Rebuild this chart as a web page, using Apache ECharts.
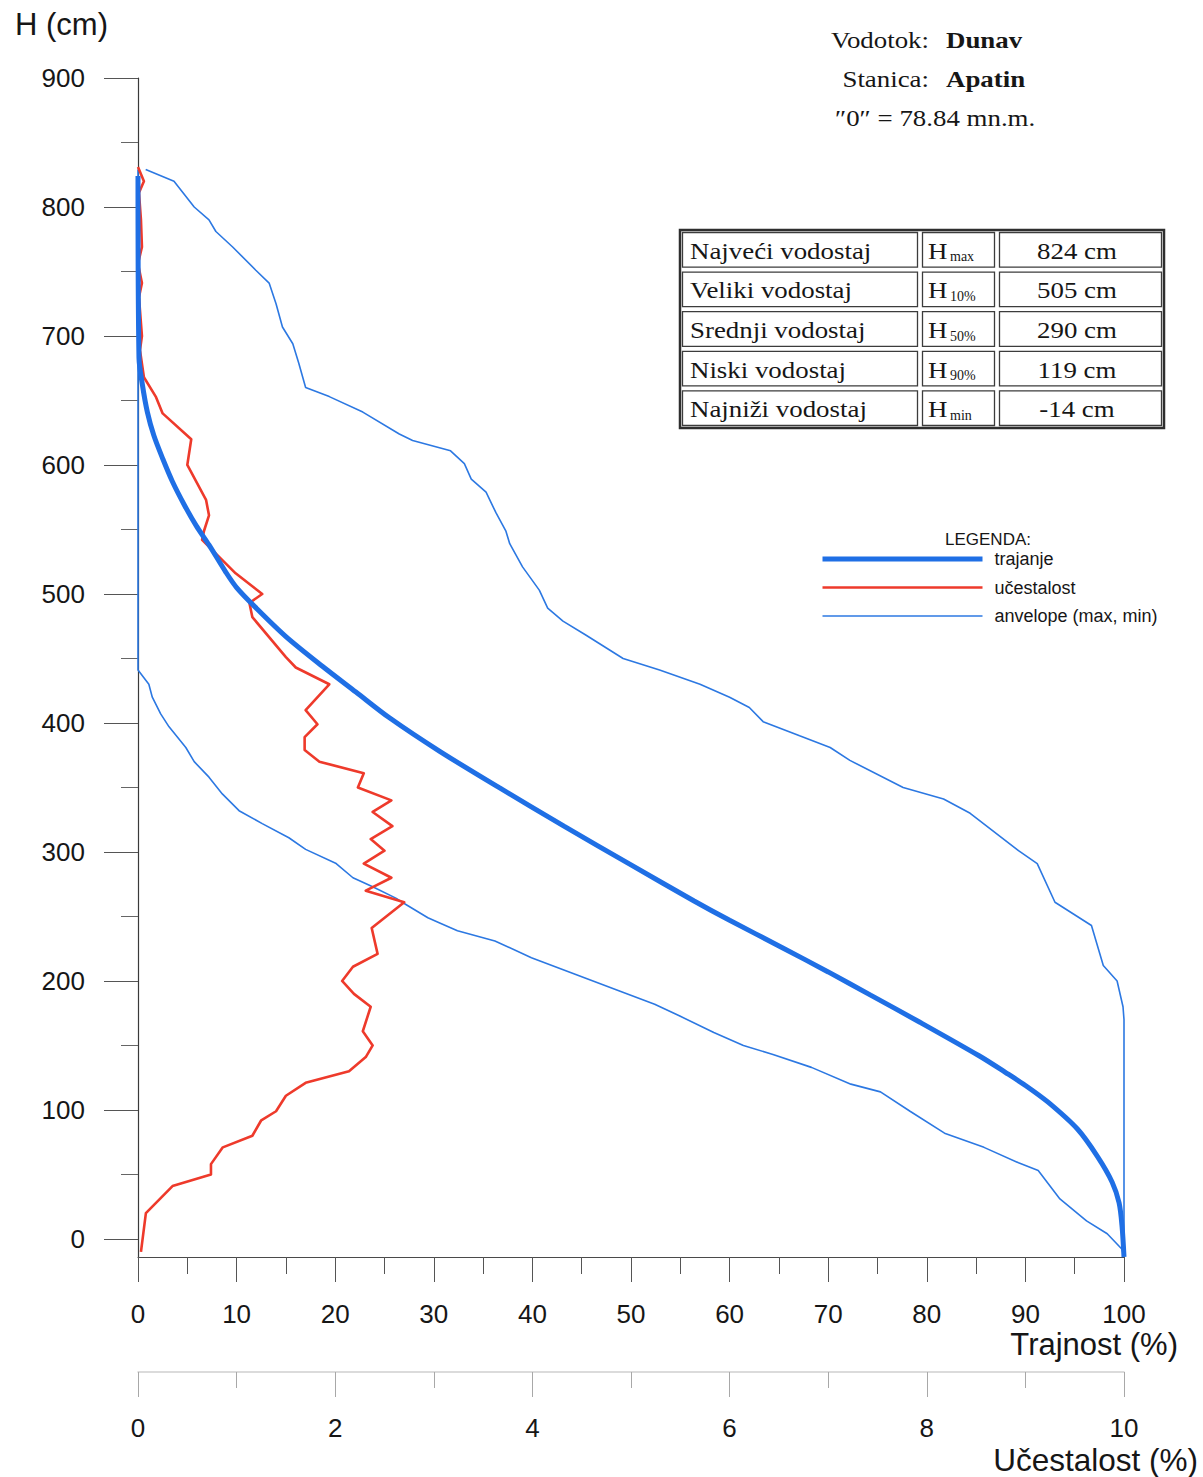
<!DOCTYPE html>
<html>
<head>
<meta charset="utf-8">
<title>Dunav – Apatin: trajanje i učestalost vodostaja</title>
<script src="https://cdn.jsdelivr.net/npm/echarts@6/dist/echarts.min.js"></script>
<style>
  html, body { margin: 0; padding: 0; background: #ffffff; }
  #chart { width: 1203px; height: 1477px; }
</style>
</head>
<body>
<div id="chart"></div>
<script>
// ---- data -------------------------------------------------------------
// duration curve: percent of time exceeded (%) vs water level H (cm)
const trajanjePct = [0, 0.1, 0.45, 0.95, 1.6, 2.5, 3.5, 4.7, 5.9, 7.2, 8.9, 10, 12, 15, 18.7, 22.1, 25.5, 30.6, 36.6, 43.2, 50, 56.4, 60, 65.3, 70, 74.3, 79.3, 85.3, 88, 90, 92.3, 95.3, 97.3, 98.8, 99.5, 99.8, 100];
const trajanjeH   = [824, 683, 662, 641, 623, 605, 587, 569, 553, 538, 517, 505, 489, 467, 444, 424, 404, 378, 350, 320, 290, 262, 247, 226, 207, 189, 168, 142, 129, 119, 106, 85, 64, 44, 28, 10, -14];

// frequency of levels (% of time in each class), plotted on the lower axis
const ucestalostH   = [831, 820, 811, 790, 769, 756, 741, 730, 700, 689, 668, 653, 640, 620, 600, 573, 561, 549, 542, 516, 500, 493, 482, 451, 443, 430, 410, 399, 389, 379, 370, 361, 350, 340, 331, 320, 310, 301, 291, 280, 270, 261, 241, 221, 211, 200, 190, 180, 161, 150, 141, 130, 121, 111, 99, 92, 80, 71, 58, 50, 41, 20, -10];
const ucestalostPct = [0, 0.06, 0.01, 0.03, 0.04, 0, 0.04, 0.01, 0.04, 0.02, 0.06, 0.18, 0.25, 0.54, 0.50, 0.69, 0.72, 0.67, 0.65, 0.99, 1.26, 1.13, 1.16, 1.50, 1.60, 1.94, 1.70, 1.82, 1.69, 1.69, 1.84, 2.29, 2.23, 2.57, 2.38, 2.58, 2.36, 2.50, 2.29, 2.57, 2.31, 2.70, 2.37, 2.43, 2.18, 2.07, 2.19, 2.36, 2.28, 2.38, 2.31, 2.14, 1.70, 1.50, 1.40, 1.25, 1.16, 0.86, 0.74, 0.74, 0.35, 0.08, 0.03];

// envelopes of yearly duration curves (max and min)
const maxEnvPct = [0.78, 3.65, 5.7, 7.2, 7.9, 9.6, 11.95, 13.3, 14.0, 14.65, 15.7, 16.3, 17.0, 19.4, 22.8, 26.5, 27.85, 31.7, 33.1, 33.8, 35.3, 36.3, 37.3, 37.7, 39.0, 40.7, 41.55, 43.1, 45.45, 49.2, 52.9, 57.0, 60.0, 62.0, 63.4, 67.1, 70.2, 72.2, 77.6, 81.7, 84.4, 89.3, 91.2, 93.0, 96.7, 97.9, 99.3, 99.9, 100, 100];
const maxEnvH   = [829, 820, 800, 790, 781, 769, 751, 741, 725, 707, 694, 679, 660, 653, 641, 624, 619, 611, 601, 589, 579, 563, 549, 539, 521, 503, 489, 479, 468, 450, 441, 430, 420, 412, 401, 390, 381, 371, 350, 341, 330, 301, 291, 261, 243, 212, 200, 180, 170, -14];

const minEnvPct = [0, 0, 1.1, 1.45, 2.3, 3.15, 4.85, 5.7, 7.2, 8.55, 10.25, 12.6, 15.3, 17.0, 20.1, 21.8, 23.8, 26.2, 27.0, 29.4, 30.6, 32.4, 36.2, 39.9, 44.4, 48.9, 52.4, 54.9, 58.4, 61.4, 64.4, 68.3, 72.3, 75.3, 78.3, 81.8, 85.8, 89.3, 91.3, 93.5, 96.2, 98.3, 99.8, 100];
const minEnvH   = [829, 441, 430, 420, 407, 397, 381, 370, 358, 345, 332, 322, 311, 302, 291, 280, 273, 264, 260, 249, 245, 239, 231, 218, 205, 192, 182, 173, 160, 150, 143, 133, 120, 114, 99, 82, 71, 59, 53, 31, 14, 4, -8, -14];

// axis ticks
const yMajorTicks = [0, 100, 200, 300, 400, 500, 600, 700, 800, 900];
const yMinorTicks = [50, 150, 250, 350, 450, 550, 650, 750, 850];

// characteristic levels table
const tableNames  = ['Najveći vodostaj', 'Veliki vodostaj', 'Srednji vodostaj', 'Niski vodostaj', 'Najniži vodostaj'];
const tableSubs   = ['max', '10%', '50%', '90%', 'min'];
const tableValues = [824, 505, 290, 119, -14];

// station info
const stationRiver = 'Dunav';
const stationName  = 'Apatin';
const stationZero  = '″0″ = 78.84 mn.m.';

// ---- helpers ----------------------------------------------------------
const zip = (xs, ys) => xs.map((x, i) => [x, ys[i]]);
const zipYX = (ys, xs) => ys.map((y, i) => [xs[i], y]);

const SANS  = '"Liberation Sans", Arial, sans-serif';
const SERIF = '"Liberation Serif", "Times New Roman", serif';
const INK = '#161616';
const BLUE_THICK = '#1f6fe5';
const BLUE_THIN  = '#2c78e2';
const RED = '#ee3a2b';

// ---- table & header graphics -----------------------------------------
const T = { x: 680, y: 230, cols: [240, 77, 167], rowH: 39.6 };
const tableW = T.cols.reduce((a, b) => a + b, 0);
const graphics = [];

function serifText(text, x, y, opts = {}) {
  return {
    type: 'text', x: x, y: y, scaleX: opts.scaleX || 1.12,
    style: {
      text: text, x: 0, y: 0,
      font: (opts.bold ? 'bold ' : '') + (opts.size || 24) + 'px ' + SERIF,
      fill: INK,
      align: opts.align || 'left', textAlign: opts.align || 'left',
      verticalAlign: 'middle', textVerticalAlign: 'middle'
    }
  };
}

// header
graphics.push(serifText('Vodotok:', 929, 40, { align: 'right' }));
graphics.push(serifText(stationRiver, 946, 40, { bold: true }));
graphics.push(serifText('Stanica:', 929, 79, { align: 'right' }));
graphics.push(serifText(stationName, 946, 79, { bold: true }));
graphics.push(serifText(stationZero, 835, 118));

// table frame
graphics.push({
  type: 'rect',
  shape: { x: T.x, y: T.y, width: tableW, height: T.rowH * 5 },
  style: { fill: '#ffffff', stroke: '#2e2e2e', lineWidth: 2.5 }
});
tableNames.forEach((name, r) => {
  let cx = T.x;
  const cy = T.y + r * T.rowH;
  T.cols.forEach((w) => {
    graphics.push({
      type: 'rect',
      shape: { x: cx + 2.5, y: cy + 2.5, width: w - 5, height: T.rowH - 5 },
      style: { fill: 'none', stroke: '#3c3c3c', lineWidth: 1.3 }
    });
    cx += w;
  });
  const mid = cy + T.rowH / 2 + 1;
  graphics.push(serifText(name, T.x + 10, mid));
  graphics.push(serifText('H', T.x + T.cols[0] + 8, mid));
  graphics.push(serifText(tableSubs[r], T.x + T.cols[0] + 30, mid + 6, { size: 14, scaleX: 1.0 }));
  graphics.push(serifText(tableValues[r] + ' cm', T.x + T.cols[0] + T.cols[1] + 80, mid, { align: 'center' }));
});

// legend caption
graphics.push({
  type: 'text',
  style: {
    text: 'LEGENDA:', x: 945, y: 539,
    font: '17px ' + SANS, fill: INK,
    align: 'left', textAlign: 'left', verticalAlign: 'middle', textVerticalAlign: 'middle'
  }
});

// ---- chart ------------------------------------------------------------
const chart = echarts.init(document.getElementById('chart'), null, { renderer: 'svg', width: 1203, height: 1477 });

const axisText = { fontFamily: SANS, fontSize: 26, color: INK };

const option = {
  animation: false,
  backgroundColor: '#ffffff',
  textStyle: { fontFamily: SANS },
  grid: { left: 138, right: 79, top: 78, bottom: 220, containLabel: false },
  legend: {
    orient: 'vertical', left: 820, top: 550, padding: 0,
    itemWidth: 160, itemHeight: 16, itemGap: 10.5,
    selectedMode: false,
    lineStyle: { width: 'inherit' },
    itemStyle: { opacity: 0 },
    textStyle: { fontFamily: SANS, fontSize: 18, color: INK, padding: [0, 0, 0, 7] },
    data: ['trajanje', 'učestalost', 'anvelope (max, min)']
  },
  xAxis: [
    {
      type: 'value', position: 'bottom', min: 0, max: 100, interval: 10,
      axisLine: { show: true, onZero: false, lineStyle: { color: '#4a4a4a', width: 1.2 } },
      axisTick: { show: true, length: 25, lineStyle: { color: '#555555', width: 1 } },
      minorTick: { show: true, splitNumber: 2, length: 17, lineStyle: { color: '#555555', width: 1 } },
      axisLabel: Object.assign({ margin: 44 }, axisText),
      splitLine: { show: false },
      name: 'Trajnost (%)', nameLocation: 'end', nameGap: 54,
      nameTextStyle: { fontFamily: SANS, fontSize: 31, color: INK, align: 'right', verticalAlign: 'top', padding: [72, 0, 0, 0] }
    },
    {
      type: 'value', position: 'bottom', offset: 115, min: 0, max: 10, interval: 2,
      axisLine: { show: true, onZero: false, lineStyle: { color: '#cfcfcf', width: 1.5 } },
      axisTick: { show: true, length: 25, lineStyle: { color: '#a8a8a8', width: 1 } },
      minorTick: { show: true, splitNumber: 2, length: 16, lineStyle: { color: '#a8a8a8', width: 1 } },
      axisLabel: Object.assign({ margin: 43 }, axisText),
      splitLine: { show: false },
      name: 'Učestalost (%)', nameLocation: 'end', nameGap: 74,
      nameTextStyle: { fontFamily: SANS, fontSize: 31.5, color: INK, align: 'right', verticalAlign: 'top', padding: [72, 0, 0, 0] }
    }
  ],
  yAxis: [
    {
      type: 'value', position: 'left', min: -14, max: 900,
      axisLine: { show: true, onZero: false, lineStyle: { color: '#3a3a3a', width: 1.2 } },
      axisTick: { show: true, length: 34, customValues: yMajorTicks, lineStyle: { color: '#555555', width: 1 } },
      axisLabel: Object.assign({ margin: 53, customValues: yMajorTicks }, axisText),
      splitLine: { show: false },
      name: 'H (cm)', nameLocation: 'end', nameGap: 38,
      nameTextStyle: { fontFamily: SANS, fontSize: 31, color: INK, align: 'right', padding: [0, 30, 0, 0] }
    },
    {
      type: 'value', position: 'left', min: -14, max: 900,
      axisLine: { show: false },
      axisTick: { show: true, length: 17, customValues: yMinorTicks, lineStyle: { color: '#666666', width: 1 } },
      axisLabel: { show: false },
      splitLine: { show: false }
    }
  ],
  series: [
    {
      name: 'anvelope (max, min)', type: 'line', xAxisIndex: 0, yAxisIndex: 0,
      data: zip(maxEnvPct, maxEnvH), symbol: 'none', clip: false, z: 2,
      lineStyle: { color: BLUE_THIN, width: 1.6 }, itemStyle: { color: BLUE_THIN }
    },
    {
      name: 'anvelope (max, min)', type: 'line', xAxisIndex: 0, yAxisIndex: 0,
      data: zip(minEnvPct, minEnvH), symbol: 'none', clip: false, z: 2,
      lineStyle: { color: BLUE_THIN, width: 1.6 }, itemStyle: { color: BLUE_THIN }
    },
    {
      name: 'učestalost', type: 'line', xAxisIndex: 1, yAxisIndex: 0,
      data: zipYX(ucestalostH, ucestalostPct), symbol: 'none', clip: false, z: 3,
      lineStyle: { color: RED, width: 2.6, join: 'round' }, itemStyle: { color: RED }
    },
    {
      name: 'trajanje', type: 'line', xAxisIndex: 0, yAxisIndex: 0,
      data: zip(trajanjePct, trajanjeH), symbol: 'none', clip: false, smooth: 0.3, z: 4,
      lineStyle: { color: BLUE_THICK, width: 5 }, itemStyle: { color: BLUE_THICK }
    }
  ],
  graphic: { elements: graphics }
};

chart.setOption(option);
</script>
</body>
</html>
